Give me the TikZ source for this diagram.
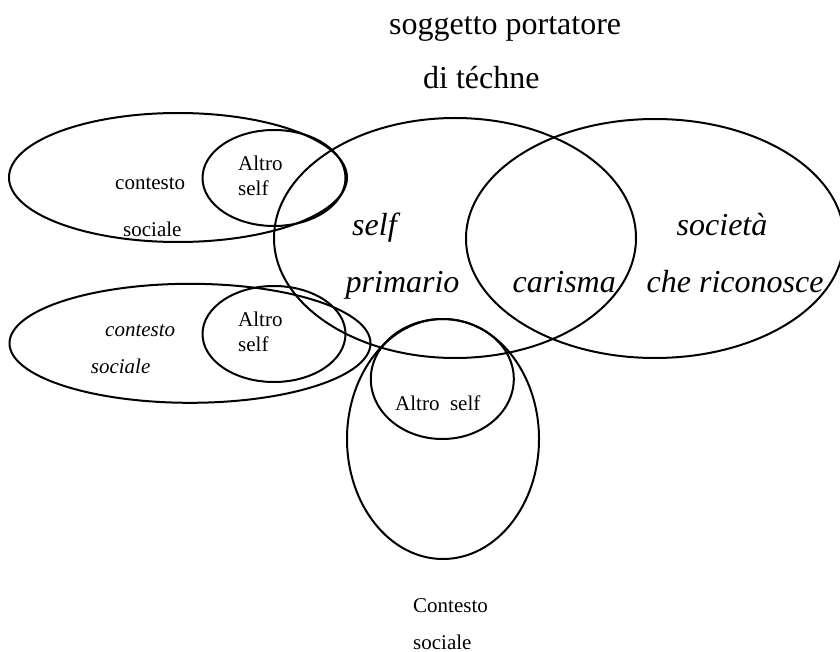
\documentclass[tikz,border=0pt]{standalone}
\usepackage{fontspec}
\setmainfont{Liberation Serif}
\usetikzlibrary{shapes.geometric}
\tikzset{
  ring/.style={draw, ellipse, line width=2pt, inner sep=0pt, fill=none},
  lbl/.style={anchor=base west, inner sep=0pt},
  bigtxt/.style={lbl, font=\fontsize{32}{38}\selectfont},
  bigit/.style={lbl, font=\fontsize{32}{38}\selectfont\itshape},
  smalltxt/.style={lbl, font=\fontsize{21}{25}\selectfont},
  smallit/.style={lbl, font=\fontsize{21}{25}\selectfont\itshape}
}
\begin{document}
\begin{tikzpicture}[x=1pt,y=-1pt]
\useasboundingbox (0,0) rectangle (840,652);
% ellipses
\node[ring, minimum width=338pt, minimum height=129pt] (ctxA) at (178,177.5) {};
\node[ring, minimum width=143pt, minimum height=96pt] (altA) at (274,178) {};
\node[ring, minimum width=362pt, minimum height=240pt] (selfp) at (455,238) {};
\node[ring, minimum width=378pt, minimum height=239pt] (soc) at (655,238.5) {};
\node[ring, minimum width=361pt, minimum height=119pt] (ctxB) at (190,343.3) {};
\node[ring, minimum width=143pt, minimum height=96pt] (altB) at (274,334) {};
\node[ring, minimum width=143pt, minimum height=120pt] (altC) at (442.3,379) {};
\node[ring, minimum width=192pt, minimum height=240pt] (ctxC) at (443,439) {};
% title
\node[bigtxt] (t1) at (389,35) {soggetto portatore};
\node[bigtxt] (t2) at (423,89) {di téchne};
% big italic labels
\node[bigit] (l1) at (352,236) {self};
\node[bigit] (l2) at (345.5,292) {primario};
\node[bigit] (l3) at (512.5,292) {carisma};
\node[bigit] (l4) at (676.5,236) {società};
\node[bigit] (l5) at (646.5,292) {che riconosce};
% small labels
\node[smalltxt] (a1) at (238,170.7) {Altro};
\node[smalltxt] (a2) at (238,195.7) {self};
\node[smalltxt] (c1) at (115,190) {contesto};
\node[smalltxt] (c2) at (123,236.7) {sociale};
\node[smalltxt] (a3) at (238,326.7) {Altro};
\node[smalltxt] (a4) at (238,351.7) {self};
\node[smallit] (c3) at (105,336.7) {contesto};
\node[smallit] (c4) at (90.7,373) {sociale};
\node[smalltxt] (a5) at (395,410.7) {Altro\ \ self};
\node[smalltxt] (c5) at (413,612.7) {Contesto};
\node[smalltxt] (c6) at (413,649) {sociale};
\end{tikzpicture}
\end{document}
